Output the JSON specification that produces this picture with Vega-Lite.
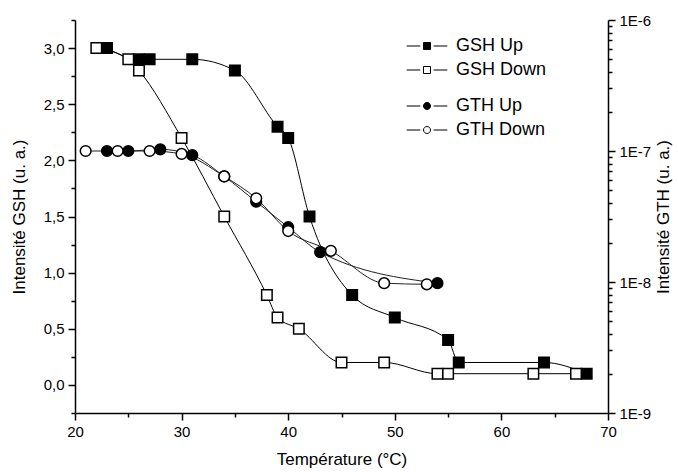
{
  "$schema": "https://vega.github.io/schema/vega-lite/v6.json",
  "width": 533,
  "height": 393,
  "autosize": "none",
  "padding": {"left": 75, "top": 20, "right": 70, "bottom": 59},
  "config": {
    "font": "Liberation Sans",
    "view": {"stroke": null},
    "axis": {
      "domainColor": "black", "domainWidth": 1.5, "tickColor": "black", "tickWidth": 1.5,
      "labelColor": "black", "titleColor": "black", "labelFontSize": 15, "titleFontSize": 17,
      "titleFontWeight": "normal", "grid": false, "labelFont": "Liberation Sans", "titleFont": "Liberation Sans",
      "labelOverlap": false, "labelFlush": false, "labelBound": false
    },
    "legend": {"labelFont": "Liberation Sans", "labelFontSize": 18, "labelColor": "black", "padding": 0}
  },
  "datasets": {
    "gsh": [
      {"series": "GSH Up", "T": 23, "GSH": 3.0},
      {"series": "GSH Up", "T": 26, "GSH": 2.9},
      {"series": "GSH Up", "T": 27, "GSH": 2.9},
      {"series": "GSH Up", "T": 31, "GSH": 2.9},
      {"series": "GSH Up", "T": 35, "GSH": 2.8},
      {"series": "GSH Up", "T": 39, "GSH": 2.3},
      {"series": "GSH Up", "T": 40, "GSH": 2.2},
      {"series": "GSH Up", "T": 42, "GSH": 1.5},
      {"series": "GSH Up", "T": 46, "GSH": 0.8},
      {"series": "GSH Up", "T": 50, "GSH": 0.6},
      {"series": "GSH Up", "T": 55, "GSH": 0.4},
      {"series": "GSH Up", "T": 56, "GSH": 0.2},
      {"series": "GSH Up", "T": 64, "GSH": 0.2},
      {"series": "GSH Up", "T": 68, "GSH": 0.1},
      {"series": "GSH Down", "T": 22, "GSH": 3.0},
      {"series": "GSH Down", "T": 25, "GSH": 2.9},
      {"series": "GSH Down", "T": 26, "GSH": 2.8},
      {"series": "GSH Down", "T": 30, "GSH": 2.2},
      {"series": "GSH Down", "T": 34, "GSH": 1.5},
      {"series": "GSH Down", "T": 38, "GSH": 0.8},
      {"series": "GSH Down", "T": 39, "GSH": 0.6},
      {"series": "GSH Down", "T": 41, "GSH": 0.5},
      {"series": "GSH Down", "T": 45, "GSH": 0.2},
      {"series": "GSH Down", "T": 49, "GSH": 0.2},
      {"series": "GSH Down", "T": 54, "GSH": 0.1},
      {"series": "GSH Down", "T": 55, "GSH": 0.1},
      {"series": "GSH Down", "T": 63, "GSH": 0.1},
      {"series": "GSH Down", "T": 67, "GSH": 0.1}
    ],
    "gth": [
      {"series": "GTH Up", "T": 23, "GTH": 1.0e-7},
      {"series": "GTH Up", "T": 25, "GTH": 1.0e-7},
      {"series": "GTH Up", "T": 28, "GTH": 1.03e-7},
      {"series": "GTH Up", "T": 31, "GTH": 9.3e-8},
      {"series": "GTH Up", "T": 34, "GTH": 6.4e-8},
      {"series": "GTH Up", "T": 37, "GTH": 4.1e-8},
      {"series": "GTH Up", "T": 40, "GTH": 2.62e-8},
      {"series": "GTH Up", "T": 43, "GTH": 1.69e-8},
      {"series": "GTH Up", "T": 54, "GTH": 9.8e-9},
      {"series": "GTH Down", "T": 21, "GTH": 1.0e-7},
      {"series": "GTH Down", "T": 24, "GTH": 1.0e-7},
      {"series": "GTH Down", "T": 27, "GTH": 1.0e-7},
      {"series": "GTH Down", "T": 30, "GTH": 9.5e-8},
      {"series": "GTH Down", "T": 34, "GTH": 6.4e-8},
      {"series": "GTH Down", "T": 37, "GTH": 4.35e-8},
      {"series": "GTH Down", "T": 40, "GTH": 2.45e-8},
      {"series": "GTH Down", "T": 44, "GTH": 1.73e-8},
      {"series": "GTH Down", "T": 49, "GTH": 9.8e-9},
      {"series": "GTH Down", "T": 53, "GTH": 9.6e-9}
    ]
  },
  "layer": [
    {
      "data": {"name": "gsh"},
      "encoding": {
        "x": {
          "field": "T", "type": "quantitative",
          "scale": {"domain": [20, 70], "nice": false, "zero": false},
          "axis": {
            "values": [20, 25, 30, 35, 40, 45, 50, 55, 60, 65, 70],
            "labelExpr": "datum.value % 10 === 0 ? datum.label : ''",
            "tickSize": {"condition": {"test": "datum.value % 10 === 0", "value": 7}, "value": 4},
            "labelPadding": 4,
            "title": "Température (°C)",
            "titlePadding": 12
          }
        },
        "y": {
          "field": "GSH", "type": "quantitative",
          "scale": {"domain": [-0.25, 3.25], "nice": false, "zero": false},
          "axis": {
            "orient": "left",
            "values": [-0.25, 0, 0.25, 0.5, 0.75, 1, 1.25, 1.5, 1.75, 2, 2.25, 2.5, 2.75, 3, 3.25],
            "labelExpr": "datum.value % 0.5 === 0 ? replace(format(datum.value, '.1f'), '.', ',') : ''",
            "tickSize": {"condition": {"test": "datum.value % 0.5 === 0", "value": 7}, "value": 4},
            "labelPadding": 4,
            "title": "Intensité GSH (u. a.)",
            "titlePadding": 15
          }
        }
      },
      "layer": [
        {
          "mark": {"type": "line", "interpolate": "monotone", "color": "black", "strokeWidth": 1},
          "encoding": {"detail": {"field": "series"}}
        },
        {
          "mark": {"type": "point", "shape": "square", "filled": true, "size": 110, "stroke": "black", "strokeWidth": 1.5, "opacity": 1},
          "encoding": {
            "fill": {
              "field": "series", "type": "nominal",
              "scale": {"domain": ["GSH Up", "GSH Down"], "range": ["black", "white"]},
              "legend": {
                "title": null, "orient": "none", "legendX": 343, "legendY": 17,
                "symbolType": "M-5.8,0H-1.9M-1,-1H1V1H-1ZM1.9,0H5.8",
                "symbolSize": 49, "symbolStrokeWidth": 1, "symbolOpacity": 1,
                "labelOffset": 20, "rowPadding": 6
              }
            }
          }
        }
      ]
    },
    {
      "data": {"name": "gth"},
      "encoding": {
        "x": {"field": "T", "type": "quantitative"},
        "y": {
          "field": "GTH", "type": "quantitative",
          "scale": {"type": "log", "domain": [1e-9, 1e-6], "nice": false},
          "axis": {
            "orient": "right",
            "values": [1e-9, 2e-9, 3e-9, 4e-9, 5e-9, 6e-9, 7e-9, 8e-9, 9e-9, 1e-8, 2e-8, 3e-8, 4e-8, 5e-8, 6e-8, 7e-8, 8e-8, 9e-8, 1e-7, 2e-7, 3e-7, 4e-7, 5e-7, 6e-7, 7e-7, 8e-7, 9e-7, 1e-6],
            "labelExpr": "abs(log(datum.value)/LN10 - round(log(datum.value)/LN10)) < 0.001 ? '1E' + round(log(datum.value)/LN10) : ''",
            "tickSize": {"condition": {"test": "abs(log(datum.value)/LN10 - round(log(datum.value)/LN10)) < 0.001", "value": 7}, "value": 4},
            "labelPadding": 4,
            "title": "Intensité GTH (u. a.)",
            "titleAngle": 270,
            "titleBaseline": "top",
            "titlePadding": 5
          }
        }
      },
      "layer": [
        {
          "mark": {"type": "line", "interpolate": "monotone", "color": "#222", "strokeWidth": 1},
          "encoding": {"detail": {"field": "series"}}
        },
        {
          "mark": {"type": "point", "shape": "circle", "filled": true, "size": 115, "stroke": "black", "strokeWidth": 1.5, "opacity": 1},
          "encoding": {
            "fill": {
              "field": "series", "type": "nominal",
              "scale": {"domain": ["GTH Up", "GTH Down"], "range": ["black", "white"]},
              "legend": {
                "title": null, "orient": "none", "legendX": 343, "legendY": 77,
                "symbolType": "M-5.8,0H-1.9M1,0A1,1,0,1,1,-1,0A1,1,0,1,1,1,0ZM1.9,0H5.8",
                "symbolSize": 49, "symbolStrokeWidth": 1, "symbolOpacity": 1,
                "labelOffset": 20, "rowPadding": 6
              }
            }
          }
        }
      ]
    }
  ],
  "resolve": {"scale": {"y": "independent", "fill": "independent"}, "axis": {"y": "independent"}, "legend": {"fill": "independent"}}
}
